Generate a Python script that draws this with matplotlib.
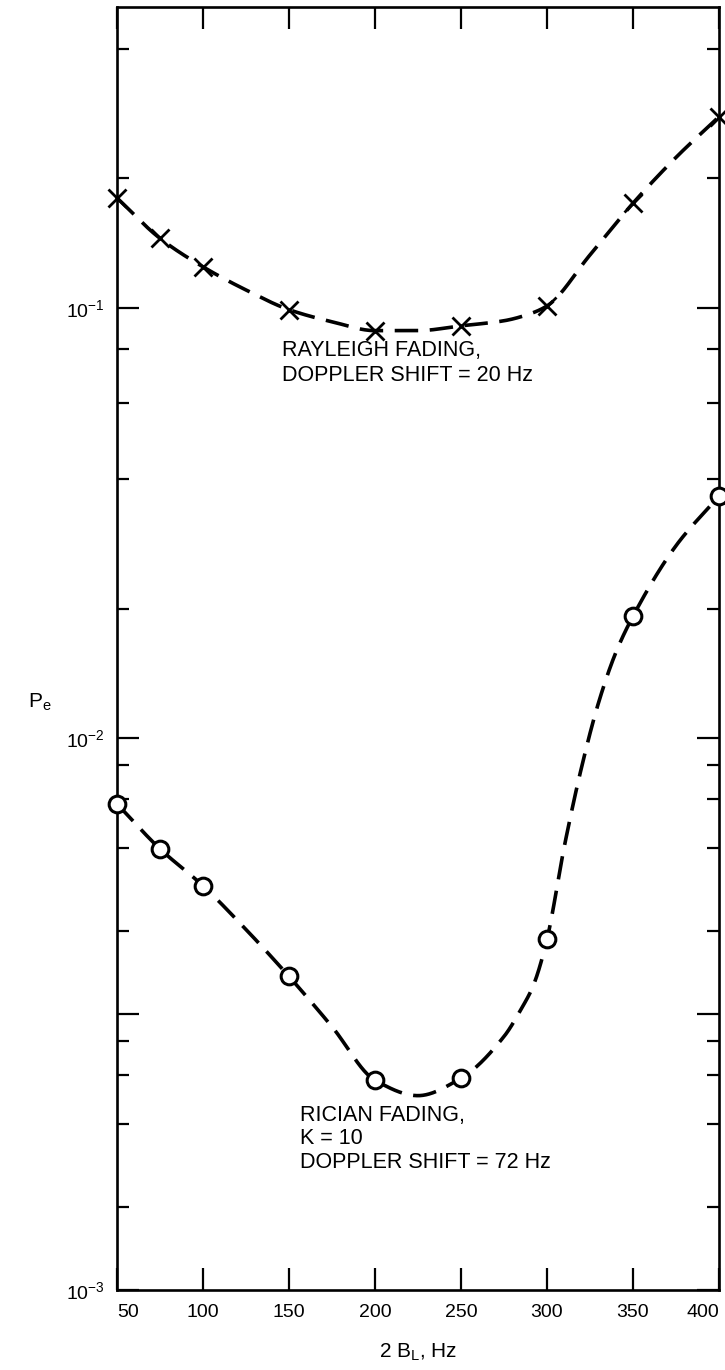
import numpy as np
import matplotlib
matplotlib.use('Agg')
import matplotlib.pyplot as plt

# 读图得到的数据 (x = 2B_L, Hz)
bl = [50, 75, 100, 150, 200, 250, 300, 350, 400]
rayleigh_pe = [0.18, 0.145, 0.1245, 0.099, 0.0885, 0.0908, 0.101, 0.175, 0.278]
rician_pe = [0.0076, 0.0063, 0.0054, 0.0037, 0.0024, 0.00242, 0.00432, 0.0192, 0.0365]

# 手绘曲线上额外读出的点
rayleigh_curve_x = [50, 75, 100, 125, 150, 175, 200, 225, 250, 275, 290, 300, 325, 350, 375, 400]
rayleigh_curve_y = [0.18, 0.145, 0.1245, 0.110, 0.099, 0.0928, 0.0885, 0.0885, 0.0908, 0.0933,
                    0.0968, 0.101, 0.1327, 0.175, 0.2236, 0.278]
rician_curve_x = [50, 75, 100, 125, 150, 175, 200, 225, 250, 275, 285, 292, 300, 310, 320,
                  330, 340, 350, 375, 400]
rician_curve_y = [0.0076, 0.0063, 0.0054, 0.0045, 0.0037, 0.0030, 0.0024, 0.00225, 0.00242,
                  0.00288, 0.00323, 0.00356, 0.00432, 0.00635, 0.00883, 0.0121, 0.0158,
                  0.0192, 0.028, 0.0365]

xtick_vals = [50, 100, 150, 200, 250, 300, 350, 400]

plt.rcParams['font.family'] = ['Liberation Sans', 'DejaVu Sans']
plt.rcParams['mathtext.default'] = 'regular'

# 原图下面那一个十倍程比上面的拉长了
K = 554 / 432


def fwd(v):
    L = np.log10(np.clip(v, 1e-12, None))
    return np.where(L >= -2, L, -2 + (L + 2) * K)


def inv(f):
    f = np.asarray(f, float)
    return np.where(f >= -2, 10.0 ** f, 10.0 ** (-2 + (f + 2) / K))


def pchip(x, y, xs):
    x = np.asarray(x, float)
    y = np.asarray(y, float)
    h = np.diff(x)
    d = np.diff(y) / h
    m = np.zeros_like(y)
    for i in range(1, len(y) - 1):
        if d[i - 1] * d[i] > 0:
            w1 = 2 * h[i] + h[i - 1]
            w2 = h[i] + 2 * h[i - 1]
            m[i] = (w1 + w2) / (w1 / d[i - 1] + w2 / d[i])
    m[0] = d[0]
    m[-1] = d[-1]
    idx = np.clip(np.searchsorted(x, xs) - 1, 0, len(h) - 1)
    t = (xs - x[idx]) / h[idx]
    h00 = 2 * t ** 3 - 3 * t ** 2 + 1
    h10 = t ** 3 - 2 * t ** 2 + t
    h01 = -2 * t ** 3 + 3 * t ** 2
    h11 = t ** 3 - t ** 2
    return h00 * y[idx] + h10 * h[idx] * m[idx] + h01 * y[idx + 1] + h11 * h[idx] * m[idx + 1]


def smooth(xc, yc):
    xs = np.linspace(xc[0], xc[-1], 800)
    return xs, inv(pchip(xc, fwd(np.array(yc)), xs))


fig = plt.figure(figsize=(7.25, 13.7), dpi=100, facecolor='w')
ax = fig.add_axes([117 / 725, 1 - 1290 / 1370, (719 - 117) / 725, (1290 - 7) / 1370])
ax.set_yscale('function', functions=(fwd, inv))
ax.set_xlim(50, 400)
ax.set_ylim(1e-3, 0.5)

dash = dict(color='black', lw=2.6, dashes=(6.5, 3.2), solid_capstyle='butt')
xs, ys = smooth(rayleigh_curve_x, rayleigh_curve_y)
ax.plot(xs, ys, **dash, zorder=2)
xs, ys = smooth(rician_curve_x, rician_curve_y)
ax.plot(xs, ys, **dash, zorder=2)

ax.plot(bl, rayleigh_pe, 'x', color='black', ms=13, mew=2.0, clip_on=False, zorder=3)
ax.plot(bl, rician_pe, 'o', color='black', mfc='white', ms=12, mew=2.2, clip_on=False, zorder=3)

# 刻度
major = [1e-3, 10 ** -2.5, 1e-2, 1e-1]
ax.set_yticks(major)
ax.set_yticklabels(['$10^{-3}$', '', '$10^{-2}$', '$10^{-1}$'])
minor = [0.4, 0.2, 0.08, 0.06, 0.04, 0.02]
for k in (0, 1):
    for m in (8, 6, 4, 2):
        minor.append(10 ** (-2 - 0.5 * (k + np.log10(10 / m))))
ax.set_yticks(minor, minor=True)
ax.yaxis.set_minor_formatter(plt.NullFormatter())

ax.set_xticks(xtick_vals)
ax.set_xticklabels([str(v) for v in xtick_vals])
labs = ax.get_xticklabels()
labs[0].set_horizontalalignment('left')
labs[-1].set_horizontalalignment('right')

ax.tick_params(axis='both', which='both', direction='in', top=True, right=True,
               width=1.6, labelsize=14, colors='black')
ax.tick_params(axis='x', which='major', length=16, pad=10)
ax.tick_params(axis='y', which='major', length=16, pad=9)
ax.tick_params(axis='y', which='minor', length=8.5)
for s in ax.spines.values():
    s.set_linewidth(1.9)

ax.text(0.274, 0.7405, 'RAYLEIGH FADING,\nDOPPLER SHIFT = 20 Hz', transform=ax.transAxes,
        ha='left', va='top', fontsize=15.5, linespacing=1.25)
ax.text(0.304, 0.1445, 'RICIAN FADING,\nK = 10\nDOPPLER SHIFT = 72 Hz', transform=ax.transAxes,
        ha='left', va='top', fontsize=15.5, linespacing=1.18)

fig.text(418 / 725, 1 - 1358 / 1370, '2 B$_L$, Hz', ha='center', va='baseline', fontsize=15)
fig.text(28 / 725, 0.487, '$P_e$', ha='left', va='center', fontsize=15)

plt.savefig('out.png', dpi=100, facecolor='w')
